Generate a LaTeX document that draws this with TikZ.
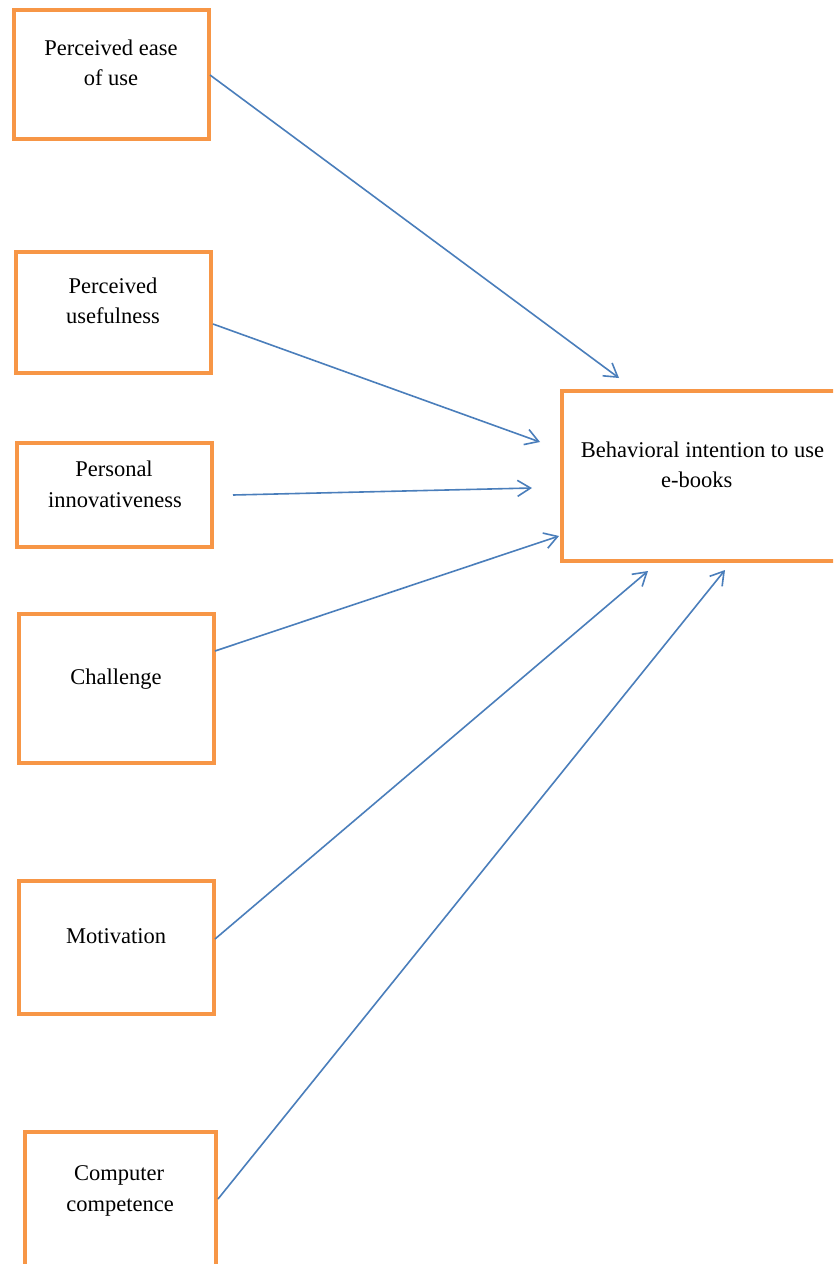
\documentclass[tikz,border=0pt]{standalone}
\usepackage{fontspec}
\setmainfont{Liberation Serif}
\usetikzlibrary{arrows.meta}
\definecolor{boxorange}{HTML}{F79646}
\definecolor{arrowblue}{HTML}{4A7EBB}
\tikzset{
  factor/.style={draw=boxorange, line width=4pt, fill=white},
  lbl/.style={anchor=base, inner sep=0pt, font=\fontsize{22.5}{30}\selectfont},
  link/.style={draw=arrowblue, line width=1.6pt, -{Straight Barb[length=13pt,width=16pt,line width=1.6pt]}}
}
\begin{document}
\begin{tikzpicture}[x=1pt,y=-1pt]
\useasboundingbox (0,0) rectangle (833,1264);
\fill[white] (0,0) rectangle (833,1264);
\clip (0,0) rectangle (833,1264);
% boxes
\draw[factor] (13.7,10.3) rectangle (209,139);
\draw[factor] (15.5,251.5) rectangle (211,373);
\draw[factor] (16.5,443) rectangle (212,547);
\draw[factor] (18.5,613.5) rectangle (213.5,762.5);
\draw[factor] (18.5,880.5) rectangle (213.5,1013.5);
\draw[factor] (24.5,1132) rectangle (215.5,1290);
\draw[factor] (562,390.5) rectangle (860,561);
% labels
\node[lbl] (t1a) at (111,55) {Perceived ease};
\node[lbl] (t1b) at (111,85) {of use};
\node[lbl] (t2a) at (113,293) {Perceived};
\node[lbl] (t2b) at (113,323) {usefulness};
\node[lbl] (t3a) at (114,476) {Personal};
\node[lbl] (t3b) at (115,507) {innovativeness};
\node[lbl] (t4) at (116,684) {Challenge};
\node[lbl] (t5) at (116,943) {Motivation};
\node[lbl] (t6a) at (119,1180) {Computer};
\node[lbl] (t6b) at (120,1211) {competence};
\node[lbl] (t7a) at (702.5,457) {Behavioral intention to use};
\node[lbl] (t7b) at (696.7,487) {e-books};
% connector end points
\coordinate (s1) at (210,75);   \coordinate (e1) at (619,378);
\coordinate (s2) at (213,324);  \coordinate (e2) at (540,442);
\coordinate (s3) at (233,495);  \coordinate (e3) at (532,488);
\coordinate (s4) at (215,651);  \coordinate (e4) at (559,536);
\coordinate (s5) at (215,939);  \coordinate (e5) at (648,571);
\coordinate (s6) at (218,1199); \coordinate (e6) at (725,570);
\draw[link] (s1) -- (e1);
\draw[link] (s2) -- (e2);
\draw[link] (s3) -- (e3);
\draw[link] (s4) -- (e4);
\draw[link] (s5) -- (e5);
\draw[link] (s6) -- (e6);
\end{tikzpicture}
\end{document}
